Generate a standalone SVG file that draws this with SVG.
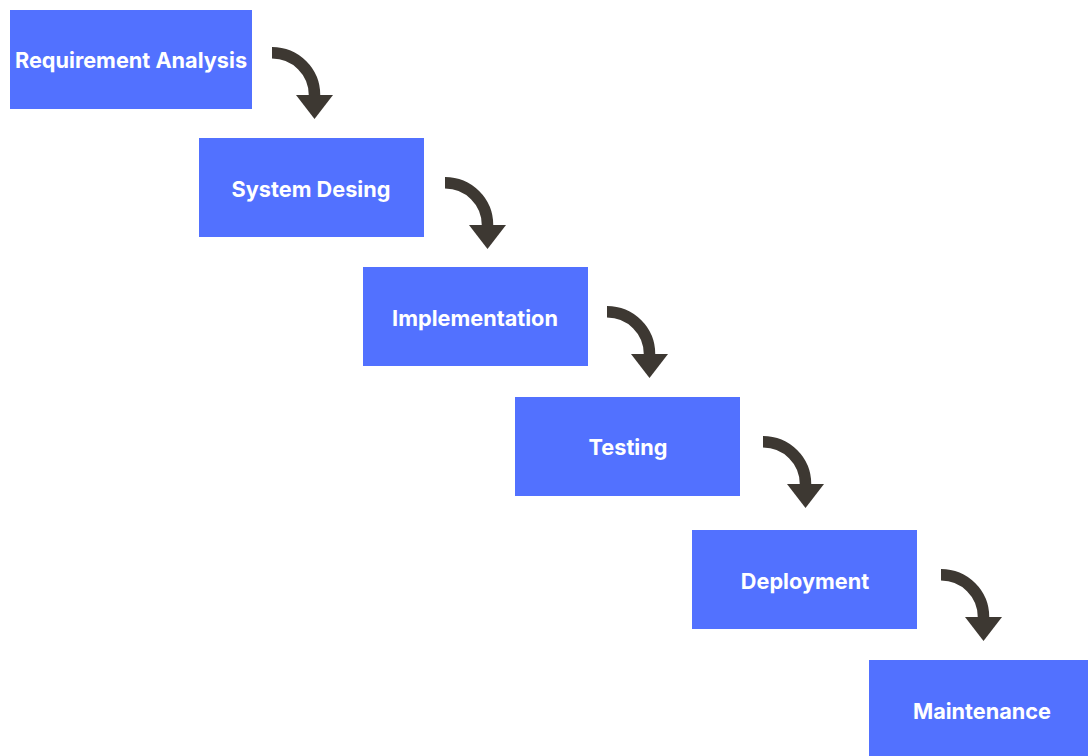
<svg xmlns="http://www.w3.org/2000/svg" xmlns:xlink="http://www.w3.org/1999/xlink" width="1088" height="756" viewBox="0 0 1088 756">
  <style>
    .box { fill: #5271FF; }
    .lbl { fill: #FFFFFF; font-family: Inter, "Open Sans", "Liberation Sans", sans-serif; font-weight: 700; font-size: 21.7px; text-anchor: middle; dominant-baseline: central; }
    .shaft { fill: none; stroke: #3D3832; stroke-width: 11.5; }
    .head { fill: #3D3832; }
  </style>
  <defs>
    <g id="curvedArrow">
      <path class="shaft" d="M0,5.75 A42.5,42.25 0 0 1 42.5,48 L42.5,52"/>
      <polygon class="head" points="24,48 61,48 42.5,72"/>
    </g>
  </defs>
  <rect width="1088" height="756" fill="#FFFFFF"/>

  <g id="connectors">
    <use xlink:href="#curvedArrow" href="#curvedArrow" transform="translate(272,47)"/>
    <use xlink:href="#curvedArrow" href="#curvedArrow" transform="translate(445,177)"/>
    <use xlink:href="#curvedArrow" href="#curvedArrow" transform="translate(607,306)"/>
    <use xlink:href="#curvedArrow" href="#curvedArrow" transform="translate(763,436)"/>
    <use xlink:href="#curvedArrow" href="#curvedArrow" transform="translate(941,569)"/>
  </g>

  <g id="node-requirement">
    <rect class="box" x="10" y="10" width="242" height="99"/>
    <text class="lbl" x="131" y="60">Requirement Analysis</text>
  </g>
  <g id="node-system">
    <rect class="box" x="199" y="138" width="225" height="99"/>
    <text class="lbl" x="311" y="189">System Desing</text>
  </g>
  <g id="node-implementation">
    <rect class="box" x="363" y="267" width="225" height="99"/>
    <text class="lbl" x="475" y="318">Implementation</text>
  </g>
  <g id="node-testing">
    <rect class="box" x="515" y="397" width="225" height="99"/>
    <text class="lbl" x="628" y="447">Testing</text>
  </g>
  <g id="node-deployment">
    <rect class="box" x="692" y="530" width="225" height="99"/>
    <text class="lbl" x="805" y="581">Deployment</text>
  </g>
  <g id="node-maintenance">
    <rect class="box" x="869" y="660" width="219" height="96"/>
    <text class="lbl" x="982" y="711">Maintenance</text>
  </g>
</svg>
